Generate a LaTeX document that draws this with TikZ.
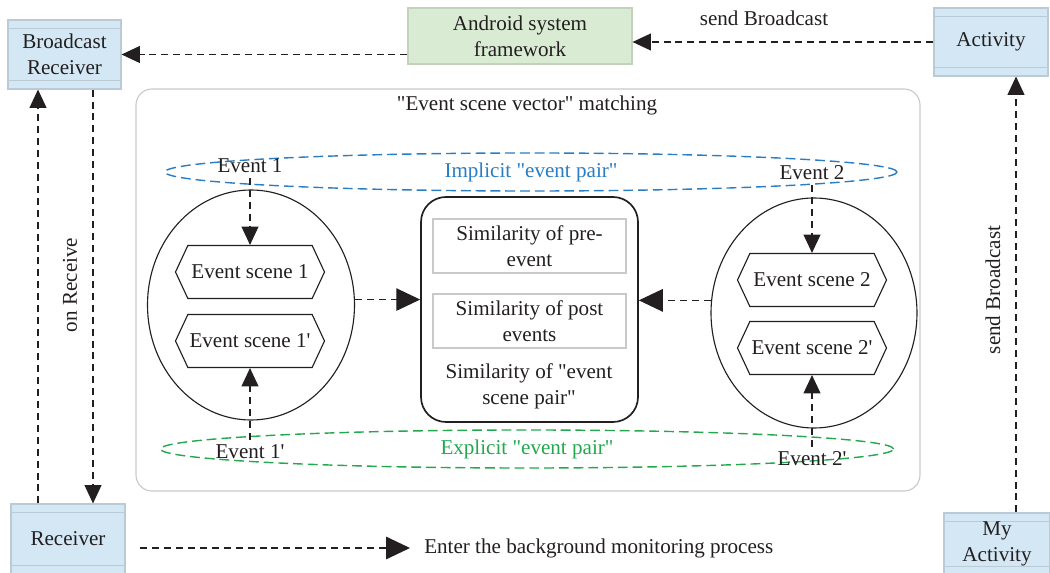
\documentclass[tikz,border=0pt]{standalone}
\usepackage{fontspec}
\newfontfamily\diagfont{Liberation Serif}
\usepackage{tikz}
\usetikzlibrary{positioning,calc,arrows.meta,shapes.geometric,shapes.symbols}
\definecolor{boxblue}{HTML}{D3E7F4}
\definecolor{boxedge}{HTML}{BACBD6}
\definecolor{boxgreen}{HTML}{D9EBD3}
\definecolor{greenedge}{HTML}{C2D2BD}
\definecolor{implblue}{HTML}{2A7DC2}
\definecolor{explgreen}{HTML}{23A84E}
\definecolor{frameedge}{HTML}{C9C9C9}
\definecolor{inkgray}{HTML}{231F20}

\begin{document}
\begin{tikzpicture}[
    x=0.25mm, y=-0.25mm,
    every node/.style={font=\diagfont\fontsize{15}{18.4}\selectfont, text=inkgray},
    comp/.style={draw=boxedge, fill=boxblue, line width=0.8pt, align=center, inner sep=0pt,
      path picture={\draw[boxedge, line width=0.8pt]
        ([yshift=-2.1mm]path picture bounding box.north west) -- ([yshift=-2.1mm]path picture bounding box.north east)
        ([yshift=2.1mm]path picture bounding box.south west) -- ([yshift=2.1mm]path picture bounding box.south east);}},
    fwbox/.style={draw=greenedge, fill=boxgreen, line width=0.8pt, align=center, inner sep=0pt},
    arr/.style={draw=inkgray, line width=0.9pt, dash pattern=on 5pt off 3.5pt, -{Triangle[length=13pt, width=12pt]}},
    bigarr/.style={arr, -{Triangle[length=17pt, width=16pt]}},
    dashell/.style={ellipse, line width=1pt, dash pattern=on 7pt off 3.5pt, inner sep=0pt},
    oval/.style={ellipse, draw=inkgray, line width=0.8pt, inner sep=0pt},
    hexa/.style={shape=signal, signal to=west and east, signal pointer angle=130, draw=inkgray,
      line width=0.8pt, minimum width=37.25mm, minimum height=13.25mm, inner sep=0pt},
    simbox/.style={draw=inkgray, line width=1.2pt, rounded corners=6.25mm},
    simitem/.style={draw=frameedge, line width=0.8pt, align=center, inner sep=0pt,
      minimum width=48.25mm, minimum height=13.5mm},
]
\useasboundingbox (0,0) rectangle (1050,573);

\node[comp, minimum width=28.25mm, minimum height=17.25mm] (brc) at (64.5,54.5) {Broadcast\\Receiver};
\node[fwbox, minimum width=56mm, minimum height=14mm] (asf) at (520,36) {Android system\\framework};
\node[comp, minimum width=28.5mm, minimum height=17mm] (act) at (991,42) {Activity};
\node[comp, minimum width=28.5mm, minimum height=17.5mm] (rcv) at (68,539) {Receiver};
\node[comp, minimum width=26.5mm, minimum height=15.5mm] (myact) at (997,544) {My\\Activity};

\draw[arr] (asf.west |- brc.east) -- (brc.east);
\draw[arr] (act.west) -- (act.west -| asf.east);
\node (sbtop) at (764,18) {send Broadcast};

\coordinate (c38) at (38,0);
\coordinate (c93) at (93,0);
\coordinate (c1016) at (1016,0);
\draw[arr] (brc.south -| c93) -- (rcv.north -| c93);
\draw[arr] (rcv.north -| c38) -- (brc.south -| c38);
\node[rotate=90] (onrcv) at (70,285) {on Receive};
\draw[arr] (myact.north -| c1016) -- (act.south -| c1016);
\node[rotate=90] (sbside) at (993,290) {send Broadcast};

\node[anchor=west, inner sep=0pt] (bg) at (424,548) {Enter the background monitoring process};
\coordinate (bgstart) at (140,548);
\draw[bigarr, shorten >=3.5mm] (bgstart) -- (bg.west);

\draw[frameedge, line width=0.8pt, rounded corners=4mm] (136,89) rectangle (920,491);
\node (ttl) at (527,105) {"Event scene vector" matching};

\node[dashell, draw=implblue, text=implblue, minimum width=183mm, minimum height=9.5mm] (impl) at (531,172) {Implicit "event pair"};
\node[dashell, draw=explgreen, text=explgreen, minimum width=183.25mm, minimum height=9.5mm] (expl) at (527,449) {Explicit "event pair"};

\node[oval, minimum width=51.75mm, minimum height=57.5mm] (lov) at (251,305) {};
\node[oval, minimum width=51.5mm, minimum height=57.5mm] (rov) at (814,313) {};

\node[hexa] (hx1) at (250,272) {Event scene 1};
\node[hexa] (hx1p) at (250,341) {Event scene 1'};
\node[hexa] (hx2) at (812,280) {Event scene 2};
\node[hexa] (hx2p) at (812,348) {Event scene 2'};

\node (ev1) at (250,166) {Event 1};
\node (ev1p) at (250,452) {Event 1'};
\node (ev2) at (812,173) {Event 2};
\node (ev2p) at (812,459) {Event 2'};

\draw[arr] (ev1.south) -- (hx1.north);
\draw[arr] (ev1p.north) -- (hx1p.south);
\draw[arr] (ev2.south) -- (hx2.north);
\draw[arr] (ev2p.north) -- (hx2p.south);

\node[simbox, minimum width=54.25mm, minimum height=56.25mm] (sim) at (529.5,309.5) {};
\node[simitem] (pre) at (529.5,246) {Similarity of pre-\\event};
\node[simitem] (post) at (529.5,321) {Similarity of post\\events};
\node[align=center] (pair) at (529,386) {Similarity of "event\\scene pair"};

\draw[bigarr] (lov.3) -- (lov.3 -| sim.west);
\draw[bigarr] (rov.173) -- (rov.173 -| sim.east);
\end{tikzpicture}
\end{document}
